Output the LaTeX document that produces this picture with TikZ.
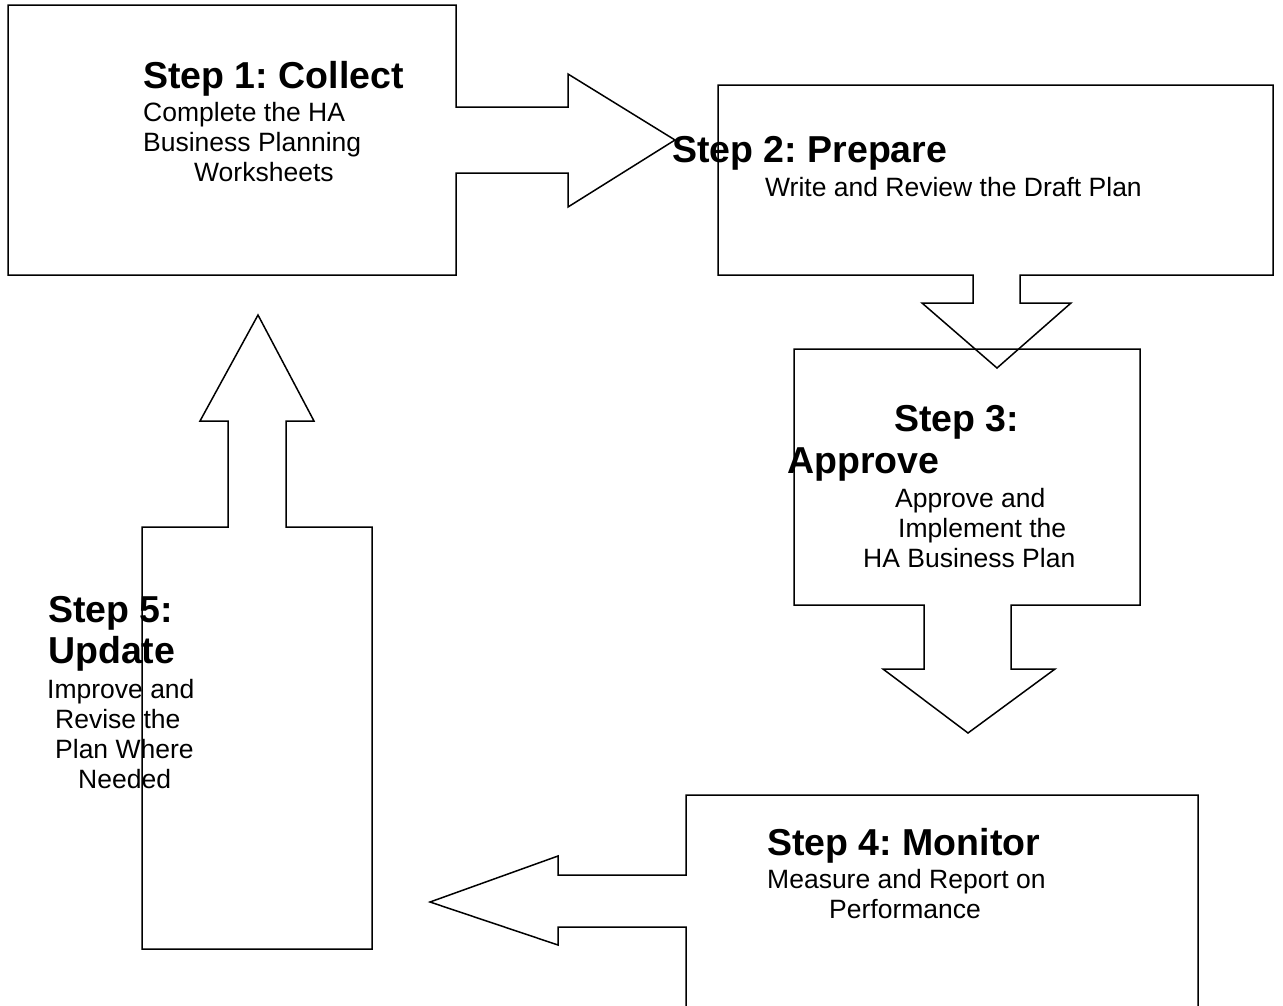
\documentclass[tikz,border=0pt]{standalone}
\usepackage{fontspec}
\setmainfont{Liberation Sans}
\frenchspacing
\tikzset{
  outline/.style={draw=black, line width=1.5pt, line join=miter},
  title/.style={anchor=base west, inner sep=0pt, font=\bfseries\fontsize{37.5}{42}\selectfont},
  body/.style={anchor=base west, inner sep=0pt, font=\fontsize{26.5}{30}\selectfont},
}
\begin{document}
\begin{tikzpicture}[x=1pt,y=-1pt]
\useasboundingbox (0,0) rectangle (1283,1005);
% Box 1 with right arrow
\draw[outline] (456,107) -- (456,5) -- (8,5) -- (8,275) -- (456,275) -- (456,173)
  -- (568,173) -- (568,207) -- (675,140) -- (568,74) -- (568,107) -- cycle;
% Box 2 with down arrow
\draw[outline] (973,275) -- (718,275) -- (718,85) -- (1273,85) -- (1273,275) -- (1020,275)
  -- (1020,303) -- (1071,303) -- (997,368) -- (922,303) -- (973,303) -- cycle;
% Box 3 with down arrow
\draw[outline] (924,605) -- (794,605) -- (794,349) -- (1140,349) -- (1140,605) -- (1011,605)
  -- (1011,669) -- (1055,669) -- (968,733) -- (883,669) -- (924,669) -- cycle;
% Box 4 with left arrow
\draw[outline] (686,1006) -- (686,927) -- (558,927) -- (558,945) -- (430,902) -- (558,856)
  -- (558,875) -- (686,875) -- (686,795) -- (1198,795) -- (1198,1006);
% Box 5 with up arrow
\draw[outline] (228,527) -- (142,527) -- (142,949) -- (372,949) -- (372,527) -- (286,527)
  -- (286,421) -- (314,421) -- (258,315) -- (200,421) -- (228,421) -- cycle;

% Step 1
\node[title] (t1) at (143,88) {Step 1: Collect};
\node[body] (d1a) at (143,121) {Complete the HA};
\node[body] (d1b) at (143,151) {Business Planning};
\node[body] (d1c) at (194,181) {Worksheets};
% Step 2
\node[title] (t2) at (672,162) {Step 2: Prepare};
\node[body] (d2a) at (765,196) {Write and Review the Draft Plan};
% Step 3
\node[title] (t3a) at (894,431) {Step 3:};
\node[title] (t3b) at (787,473) {Approve};
\node[body] (d3a) at (895,507) {Approve and};
\node[body] (d3b) at (898,537) {Implement the};
\node[body] (d3c) at (863,567) {HA Business Plan};
% Step 4
\node[title] (t4) at (767,855) {Step 4: Monitor};
\node[body] (d4a) at (767,888) {Measure and Report on};
\node[body] (d4b) at (829,918) {Performance};
% Step 5
\node[title] (t5a) at (48,622) {Step 5:};
\node[title] (t5b) at (48,663) {Update};
\node[body] (d5a) at (47,698) {Improve and};
\node[body] (d5b) at (55,728) {Revise the};
\node[body] (d5c) at (55,758) {Plan Where};
\node[body] (d5d) at (78,788) {Needed};
\end{tikzpicture}
\end{document}
